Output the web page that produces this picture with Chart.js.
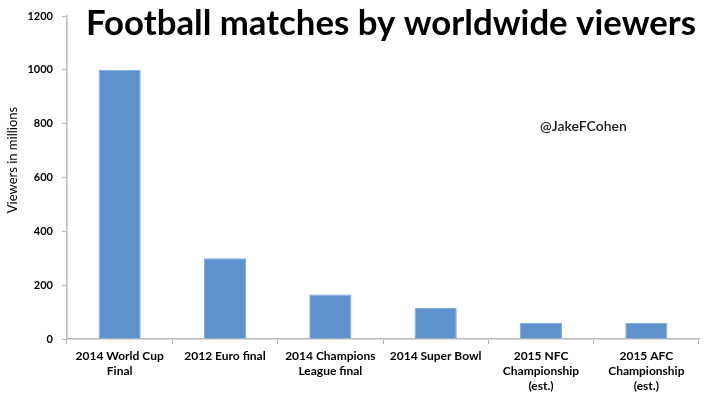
<!DOCTYPE html>
<html>
<head>
<meta charset="utf-8">
<script src="https://cdn.jsdelivr.net/npm/chart.js@4/dist/chart.umd.min.js"></script>
<style>
  html, body { margin: 0; padding: 0; background: #fff; }
  #wrap { width: 726px; height: 397px; position: relative; }
</style>
</head>
<body>
<div id="wrap"><canvas id="c" width="726" height="397"></canvas></div>
<script>
const categories = [
  ["2014 World Cup", "Final"],
  ["2012 Euro final"],
  ["2014 Champions", "League final"],
  ["2014 Super Bowl"],
  ["2015 NFC", "Championship", "(est.)"],
  ["2015 AFC", "Championship", "(est.)"]
];
const viewers = [1000, 300, 165, 115, 60, 60];
const yTicks = [0, 200, 400, 600, 800, 1000, 1200];
const titleText = "Football matches by worldwide viewers";
const yAxisTitle = "Viewers in millions";
const watermark = "@JakeFCohen";

const AXIS = "#b8b8b8";
const FONT = "Lato, 'Open Sans', sans-serif";

const textPlugin = {
  id: "texts",
  afterDraw(chart) {
    const ctx = chart.ctx;
    ctx.save();
    // Title
    ctx.fillStyle = "#000";
    ctx.font = "bold 34px " + FONT;
    ctx.textBaseline = "alphabetic";
    ctx.textAlign = "left";
    const w = ctx.measureText(titleText).width;
    const target = 610;
    ctx.translate(86, 35);
    ctx.scale(target / w, 1);
    ctx.fillText(titleText, 0, 0);
    ctx.restore();

    // Y axis title
    ctx.save();
    ctx.fillStyle = "#000";
    ctx.font = "13px " + FONT;
    ctx.textAlign = "center";
    ctx.textBaseline = "middle";
    ctx.translate(13, 160);
    ctx.rotate(-Math.PI / 2);
    ctx.fillText(yAxisTitle, 0, 0);
    ctx.restore();

    // Watermark
    ctx.save();
    ctx.fillStyle = "#1a1a1a";
    ctx.font = "600 14px " + FONT;
    ctx.textAlign = "left";
    ctx.textBaseline = "middle";
    ctx.fillText(watermark, 540, 126);
    ctx.restore();
  }
};

new Chart(document.getElementById("c"), {
  type: "bar",
  data: {
    labels: categories,
    datasets: [{
      data: viewers,
      backgroundColor: "#5e92cf",
      borderColor: "#7ea8da",
      borderWidth: 1,
      barPercentage: 0.4,
      categoryPercentage: 1.0
    }]
  },
  options: {
    responsive: false,
    animation: false,
    devicePixelRatio: 1,
    layout: { padding: { top: 16, right: 27, left: 0, bottom: 0 } },
    plugins: {
      legend: { display: false },
      tooltip: { enabled: false },
      title: { display: false }
    },
    scales: {
      x: {
        grid: {
          display: true,
          drawOnChartArea: false,
          drawTicks: true,
          tickLength: 5,
          color: AXIS,
          offset: true
        },
        border: { display: true, color: AXIS, width: 1.5 },
        ticks: {
          color: "#000",
          font: { family: FONT, size: 12, weight: "bold", lineHeight: 1.25 },
          padding: 5,
          maxRotation: 0,
          minRotation: 0,
          autoSkip: false
        },
        afterFit(scale) { scale.height = 58; }
      },
      y: {
        min: 0,
        max: 1200,
        afterBuildTicks(scale) { scale.ticks = yTicks.map(v => ({ value: v })); },
        grid: {
          display: true,
          drawOnChartArea: false,
          drawTicks: true,
          tickLength: 5,
          color: AXIS
        },
        border: { display: true, color: AXIS, width: 1.5 },
        ticks: {
          color: "#000",
          font: { family: FONT, size: 11, weight: "bold" },
          padding: 9,
          callback: (v) => String(v)
        },
        afterFit(scale) { scale.width = 67; }
      }
    }
  },
  plugins: [textPlugin]
});
</script>
</body>
</html>
